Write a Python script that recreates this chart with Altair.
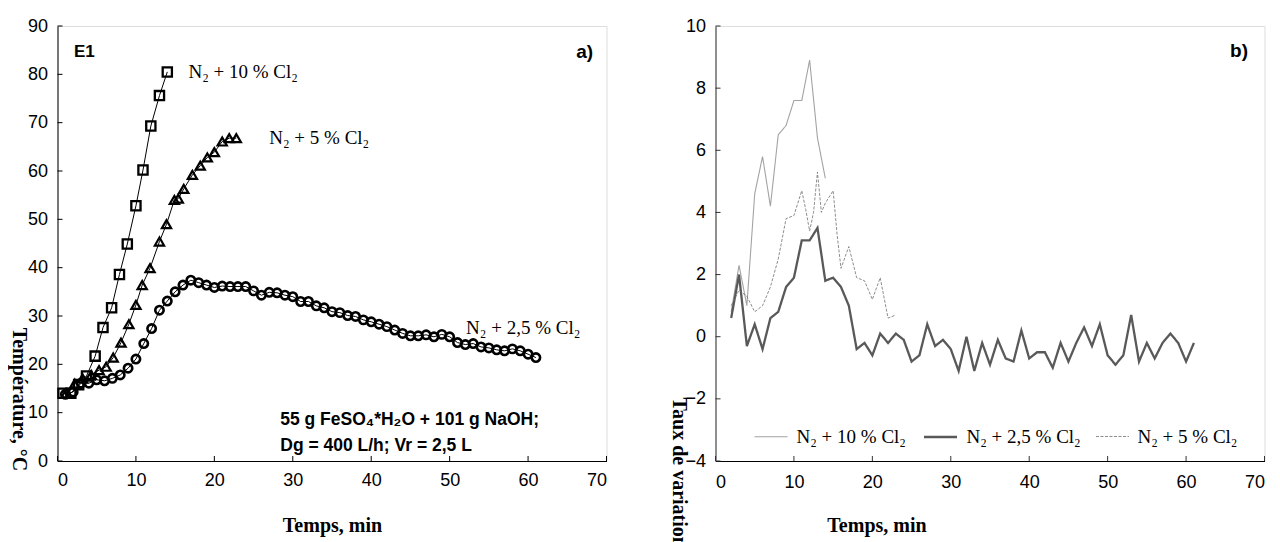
import altair as alt
import pandas as pd

# ---------------- Panel a) : temperature ----------------
t10 = [0.7, 1.7, 2.7, 3.7, 4.8, 5.8, 6.9, 7.9, 8.9, 10.0, 10.9, 11.9, 13.0, 14.0]
T10 = [14.0, 14.0, 15.8, 17.6, 21.7, 27.6, 31.7, 38.6, 44.9, 52.8, 60.2, 69.3, 75.6, 80.5]

t5 = [1.1, 2.2, 3.2, 4.3, 5.3, 6.2, 7.1, 8.1, 9.1, 10.0, 10.8, 11.8, 13.0, 13.9, 14.9, 15.4,
      16.1, 17.2, 18.2, 19.1, 20.0, 21.0, 21.9, 22.8]
T5 = [14.0, 16.0, 17.1, 17.8, 18.8, 19.5, 21.4, 24.5, 28.3, 32.3, 36.4, 39.9, 45.4, 49.0, 54.0, 54.3,
      56.3, 59.2, 61.1, 62.8, 63.9, 66.1, 66.8, 66.8]

t25 = [1, 2, 3, 4, 5, 6, 7, 8, 9, 10, 11, 12, 13, 14, 15, 16, 17, 18, 19, 20,
       21, 22, 23, 24, 25, 26, 27, 28, 29, 30, 31, 32, 33, 34, 35, 36, 37, 38, 39, 40,
       41, 42, 43, 44, 45, 46, 47, 48, 49, 50, 51, 52, 53, 54, 55, 56, 57, 58, 59, 60, 61]
T25 = [13.8, 14.3, 16.1, 16.1, 16.8, 16.6, 17.1, 17.8, 19.2, 21.1, 24.3, 27.4, 31.2, 33.1, 35.0, 36.4,
       37.4, 36.9, 36.4, 35.9, 36.2, 36.1, 36.1, 36.1, 35.2, 34.3, 34.9, 34.8, 34.3, 34.0, 33.0, 33.0,
       32.1, 31.7, 30.9, 30.7, 30.1, 29.9, 29.2, 28.8, 28.3, 27.8, 27.1, 26.4, 25.9, 25.9, 26.1, 25.7,
       26.2, 25.7, 24.5, 24.1, 24.3, 23.6, 23.4, 23.0, 22.8, 23.2, 22.8, 22.1, 21.4]

# ---------------- Panel b) : rate of change ----------------
x10 = [2, 3, 4, 5, 6, 7, 8, 9, 10, 11, 12, 13, 14]
v10 = [0.8, 2.3, 1.0, 4.6, 5.8, 4.2, 6.5, 6.8, 7.6, 7.6, 8.9, 6.4, 5.1]

x25 = [2, 3, 4, 5, 6, 7, 8, 9, 10, 11, 12, 13, 14, 15, 16, 17, 18, 19, 20, 21,
       22, 23, 24, 25, 26, 27, 28, 29, 30, 31, 32, 33, 34, 35, 36, 37, 38, 39, 40, 41,
       42, 43, 44, 45, 46, 47, 48, 49, 50, 51, 52, 53, 54, 55, 56, 57, 58, 59, 60, 61]
v25 = [0.6, 2.0, -0.3, 0.4, -0.4, 0.6, 0.8, 1.6, 1.9, 3.1, 3.1, 3.5, 1.8, 1.9, 1.6, 1.0, -0.4, -0.2,
       -0.6, 0.1, -0.2, 0.1, -0.1, -0.8, -0.6, 0.4, -0.3, -0.1, -0.4, -1.1, 0.0, -1.1, -0.2, -0.9,
       -0.1, -0.7, -0.8, 0.2, -0.7, -0.5, -0.5, -1.0, -0.2, -0.8, -0.2, 0.3, -0.3, 0.4, -0.6, -0.9,
       -0.6, 0.7, -0.8, -0.2, -0.7, -0.2, 0.1, -0.2, -0.8, -0.2]

x5 = [2, 3, 4, 5, 6, 7, 8, 9, 10, 11, 11.5, 12, 12.5, 13, 13.5, 14, 15, 15.5, 16, 17, 18, 19,
      20, 21, 22, 23]
v5 = [1.0, 1.5, 1.3, 0.8, 1.0, 1.6, 2.5, 3.8, 3.9, 4.7, 4.1, 3.4, 4.0, 5.3, 4.0, 4.3, 4.7, 3.3,
      2.2, 2.9, 1.9, 1.8, 1.2, 1.9, 0.6, 0.7]

S10 = "N₂ + 10 % Cl₂"
S25 = "N₂ + 2,5 % Cl₂"
S5 = "N₂ + 5 % Cl₂"

# annotations (data coordinates)
serif_txt = [S10, S5, S25]
serif_x = [16.7, 27.0, 52.1]
serif_y = [80.5, 66.8, 27.6]
bold_txt = ["55 g FeSO₄*H₂O + 101 g NaOH;", "Dg = 400 L/h; Vr = 2,5 L"]
bold_x = [28.4, 28.4]
bold_y = [8.5, 3.2]

xticks = [0, 10, 20, 30, 40, 50, 60, 70]
yticks_a = [0, 10, 20, 30, 40, 50, 60, 70, 80, 90]
yticks_b = [-4, -2, 0, 2, 4, 6, 8, 10]

W, H = 549, 435
SERIF = "Liberation Serif"
SANS = "Liberation Sans"
TFS = 20   # axis title size
LFS = 18   # tick label size

def xaxis(title_x=None, pad=10):
    kw = dict(values=xticks, title="Temps, min", titleFont=SERIF, titleFontSize=TFS,
              titleFontWeight="bold", titleColor="black", labelFont=SANS, labelFontSize=LFS,
              labelColor="black", ticks=False, grid=False, domainColor="black",
              domainWidth=1, labelPadding=pad, titleY=64, titleBaseline="middle")
    if title_x is not None:
        kw["titleX"] = title_x
    return alt.Axis(**kw)

sa = alt.Scale(domain=[0, 70], nice=False)
sya = alt.Scale(domain=[0, 90], nice=False)
syb = alt.Scale(domain=[-4, 10], nice=False)

# ---- left chart
da10 = pd.DataFrame({"t": t10, "T": T10, "s": S10})
da5 = pd.DataFrame({"t": t5, "T": T5, "s": S5})
da25 = pd.DataFrame({"t": t25, "T": T25, "s": S25})

xa = alt.X("t:Q", scale=sa, axis=xaxis())
ya = alt.Y("T:Q", scale=sya,
           axis=alt.Axis(values=yticks_a, title="Température, °C", titleFont=SERIF,
                         titleFontSize=TFS, titleFontWeight="bold", titleColor="black",
                         titleAngle=90, titleX=-39, titleY=373, titleAlign="center",
                         titleBaseline="middle", labelFont=SANS, labelFontSize=LFS,
                         labelColor="black", ticks=False, grid=False, domainColor="black",
                         labelPadding=10))

def series_layer(df, shape, size, sw):
    base = alt.Chart(df)
    line = base.mark_line(color="black", strokeWidth=1).encode(x=xa, y=ya, order="t:Q")
    pts = base.mark_point(shape=shape, size=size, filled=False, color="black",
                          strokeWidth=sw, opacity=1).encode(x=xa, y=ya)
    return line + pts

ann_s = pd.DataFrame({"x": serif_x, "y": serif_y, "txt": serif_txt})
ann_b = pd.DataFrame({"x": bold_x, "y": bold_y, "txt": bold_txt})

t_serif = alt.Chart(ann_s).mark_text(font=SERIF, fontSize=19, align="left", baseline="middle",
                                      color="black").encode(
    x=alt.X("x:Q", scale=sa), y=alt.Y("y:Q", scale=sya), text="txt:N")
t_bold = alt.Chart(ann_b).mark_text(font=SANS, fontSize=17.5, fontWeight="bold", align="left",
                                     baseline="middle", color="black").encode(
    x=alt.X("x:Q", scale=sa), y=alt.Y("y:Q", scale=sya), text="txt:N")
t_e1 = alt.Chart(pd.DataFrame({"x": [2.1], "y": [84.7], "txt": ["E1"]})).mark_text(
    font=SANS, fontSize=17, fontWeight="bold", align="left", baseline="middle",
    color="black").encode(x=alt.X("x:Q", scale=sa), y=alt.Y("y:Q", scale=sya), text="txt:N")
t_a = alt.Chart(pd.DataFrame({"x": [68.3], "y": [84.7], "txt": ["a)"]})).mark_text(
    font=SANS, fontSize=19, fontWeight="bold", align="right", baseline="middle",
    color="black").encode(x=alt.X("x:Q", scale=sa), y=alt.Y("y:Q", scale=sya), text="txt:N")

tick_xa = alt.Chart(pd.DataFrame({"v": xticks})).mark_rule(color="black").encode(
    x=alt.X("v:Q", scale=sa), y=alt.value(H), y2=alt.value(H - 5))
tick_ya = alt.Chart(pd.DataFrame({"v": yticks_a})).mark_rule(color="black").encode(
    y=alt.Y("v:Q", scale=sya), x=alt.value(0), x2=alt.value(5))

left = alt.layer(
    series_layer(da25, "circle", 70, 2.6),
    series_layer(da5, "triangle-up", 85, 2.2),
    series_layer(da10, "square", 85, 2.3),
    t_serif, t_bold, t_e1, t_a, tick_xa, tick_ya,
).properties(width=W, height=H)

# ---- right chart
db = pd.concat([
    pd.DataFrame({"t": x10, "v": v10, "s": S10}),
    pd.DataFrame({"t": x25, "v": v25, "s": S25}),
    pd.DataFrame({"t": x5, "v": v5, "s": S5}),
])
dom = [S10, S25, S5]
xb = alt.X("t:Q", scale=sa, axis=xaxis(title_x=161, pad=12))
yb = alt.Y("v:Q", scale=syb,
           axis=alt.Axis(values=yticks_b, title="Taux de variation, °C/min", titleFont=SERIF,
                         titleFontSize=TFS, titleFontWeight="bold", titleColor="black",
                         titleAngle=90, titleX=-37, titleY=371, titleAlign="left",
                         titleBaseline="middle", labelFont=SANS, labelFontSize=LFS,
                         labelColor="black", ticks=False, grid=False, domainColor="#333333",
                         labelPadding=10))

LX, LY = 696, 393
leg = alt.Legend(title=None, orient="none", legendX=LX, legendY=LY, direction="horizontal",
                 symbolType="stroke", symbolSize=1089, labelFont=SERIF, labelFontSize=19,
                 labelColor="black", labelOffset=8, columnPadding=12, padding=0,
                 labelLimit=300)
lines_b = alt.Chart(db).mark_line().encode(
    x=xb, y=yb,
    color=alt.Color("s:N", scale=alt.Scale(domain=dom, range=["#a3a3a3", "#595959", "#707070"]),
                    legend=leg),
    strokeDash=alt.StrokeDash("s:N", scale=alt.Scale(type="ordinal", domain=dom,
                                                     range=[[1, 0], [1, 0], [3, 1.5]]),
                              legend=leg),
    strokeWidth=alt.StrokeWidth("s:N", scale=alt.Scale(type="ordinal", domain=dom,
                                                       range=[1.1, 2.3, 0.8]),
                                legend=leg),
    order="t:Q",
)
t_b = alt.Chart(pd.DataFrame({"x": [67.9], "y": [9.2], "txt": ["b)"]})).mark_text(
    font=SANS, fontSize=19, fontWeight="bold", align="right", baseline="middle",
    color="black").encode(x=alt.X("x:Q", scale=sa), y=alt.Y("y:Q", scale=syb), text="txt:N")
tick_xb = alt.Chart(pd.DataFrame({"v": xticks})).mark_rule(color="#333333").encode(
    x=alt.X("v:Q", scale=sa), y=alt.value(H), y2=alt.value(H - 5))
tick_yb = alt.Chart(pd.DataFrame({"v": yticks_b})).mark_rule(color="#333333").encode(
    y=alt.Y("v:Q", scale=syb), x=alt.value(0), x2=alt.value(5))

right = alt.layer(lines_b, t_b, tick_xb, tick_yb).properties(width=W, height=H)

chart = alt.hconcat(left, right, spacing=109, bounds="flush").properties(
    padding={"left": -0.5, "top": 8, "right": 0, "bottom": 0}
).configure_view(stroke="black", strokeWidth=1).configure(background="white")

chart.save("out.html", embed_options={"renderer": "svg", "actions": False})
